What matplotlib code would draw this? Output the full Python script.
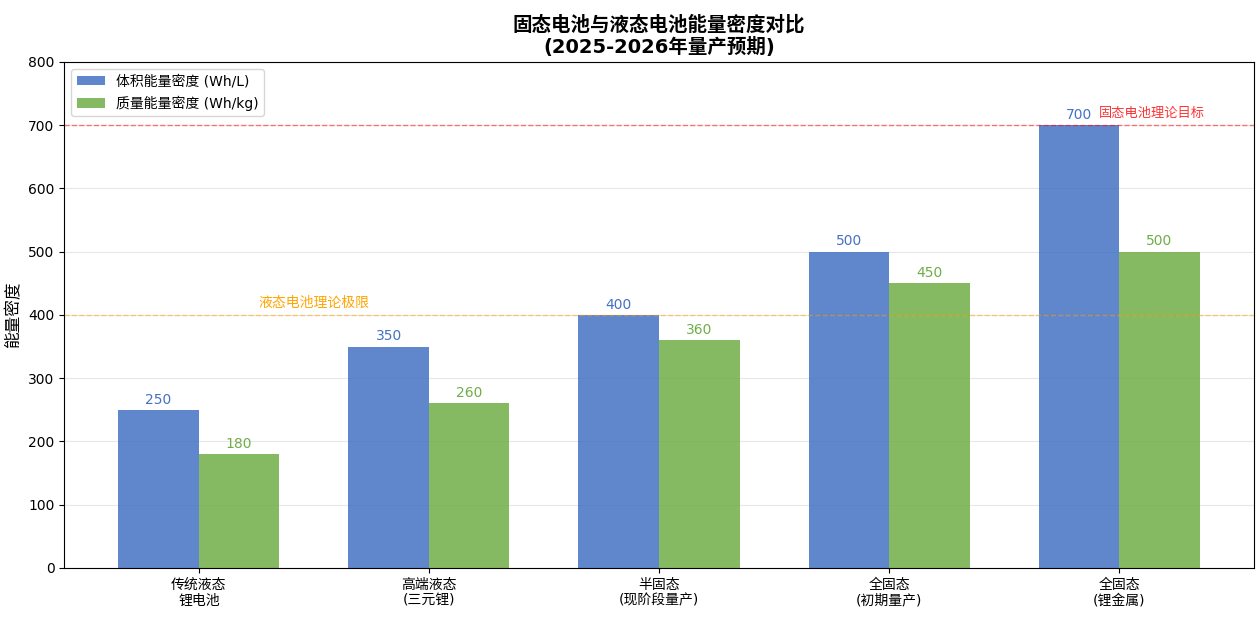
import matplotlib
matplotlib.use("Agg")
import matplotlib.pyplot as plt
import numpy as np

plt.rcParams['font.family'] = ['DejaVu Sans', 'Noto Sans CJK SC']

categories = ["传统液态\n锂电池", "高端液态\n(三元锂)", "半固态\n(现阶段量产)", "全固态\n(初期量产)", "全固态\n(锂金属)"]
volumetric = [250, 350, 400, 500, 700]
gravimetric = [180, 260, 360, 450, 500]
label_vol = "体积能量密度 (Wh/L)"
label_grav = "质量能量密度 (Wh/kg)"
title = "固态电池与液态电池能量密度对比\n(2025-2026年量产预期)"
ylabel = "能量密度"
ref_liquid = 400
ref_liquid_text = "液态电池理论极限"
ref_solid = 700
ref_solid_text = "固态电池理论目标"

blue = '#4472C4'
green = '#70AD47'

fig, ax = plt.subplots(figsize=(12.6, 6.18), dpi=100)
fig.subplots_adjust(left=0.051, right=0.995, top=0.90, bottom=0.081)

x = np.arange(len(categories))
w = 0.35
ax.bar(x - w/2, volumetric, w, color=blue, alpha=0.85, label=label_vol)
ax.bar(x + w/2, gravimetric, w, color=green, alpha=0.85, label=label_grav)

for xi, v in zip(x, volumetric):
    ax.text(xi - w/2, v + 5, f"{v}", ha='center', va='bottom', color=blue, fontsize=10)
for xi, v in zip(x, gravimetric):
    ax.text(xi + w/2, v + 5, f"{v}", ha='center', va='bottom', color=green, fontsize=10)

ax.axhline(ref_liquid, color='orange', linestyle='--', alpha=0.5, linewidth=1)
ax.text(0.5, ref_liquid + 8, ref_liquid_text, ha='center', va='bottom', color='orange', fontsize=10)
ax.axhline(ref_solid, color='red', linestyle='--', alpha=0.5, linewidth=1)
ax.text(3.91, ref_solid + 8, ref_solid_text, ha='left', va='bottom', color='red', fontsize=9.5, alpha=0.8)

ax.set_ylim(0, 800)
ax.set_yticks(range(0, 801, 100))
ax.set_xticks(x)
ax.set_xticklabels(categories, fontsize=10)
ax.set_ylabel(ylabel, fontsize=12)
ax.set_title(title, fontsize=14, fontweight='bold')
ax.yaxis.grid(True, alpha=0.3)
ax.set_axisbelow(True)
ax.legend(loc='upper left', fontsize=10)

fig.savefig("out.png", dpi=100)
